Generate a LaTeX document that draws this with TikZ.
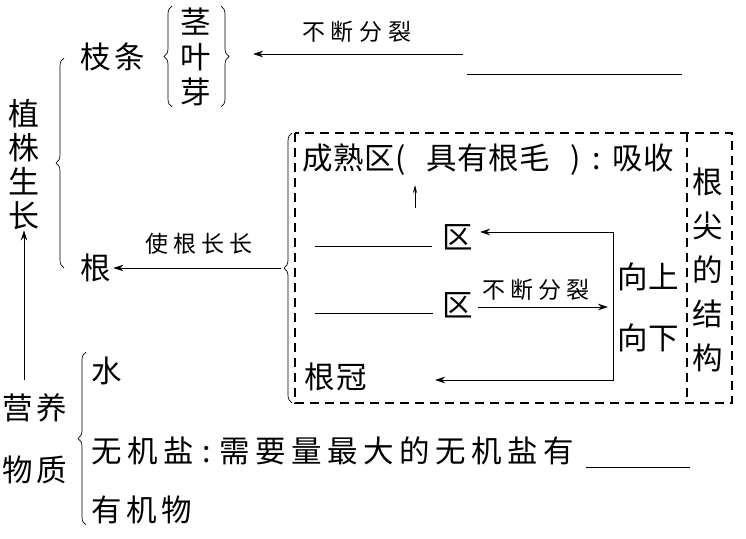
\documentclass[tikz,border=0pt]{standalone}
\usepackage{fontspec}
\setmainfont{Noto Sans CJK SC}
\usetikzlibrary{arrows.meta,decorations.pathreplacing}
\makeatletter
\newcommand\pitched[2]{\@tfor\pc:=#2\do{\makebox[#1]{\pc}}}
\makeatother
\tikzset{
  big/.style={inner sep=0pt,font=\fontsize{30.5}{34}\selectfont},
  vert/.style={inner sep=0pt,align=center},
  small/.style={inner sep=0pt,font=\fontsize{23}{26}\selectfont},
  conn/.style={line width=0.8pt,-{Stealth[length=10pt,width=6.5pt]}},
  thin/.style={line width=0.8pt},
  blank/.style={line width=0.9pt},
  brc/.style={line width=0.7pt,decorate,decoration={brace,amplitude=8pt}},
  dbox/.style={line width=1.1pt,dash pattern=on 9pt off 6pt}
}
\begin{document}
\begin{tikzpicture}[x=1pt,y=-1pt]
\useasboundingbox (0,0) rectangle (746,538);
% left vertical title
\node[vert,font=\fontsize{31}{34}\selectfont] (zz) at (24,165) {植\\株\\生\\长};
\node[big,anchor=west] (zt) at (79,57) {\pitched{34pt}{枝条}};
\node[big,anchor=west] (gen) at (79,268) {\pitched{34pt}{根}};
\draw[brc] (64,268) -- (64,58);
% stem/leaf/bud
\node[vert,font=\fontsize{30.5}{35}\selectfont] (jyy) at (196,57) {茎\\叶\\芽};
\draw[brc] (172,107) -- (172,6);
\draw[brc] (221,6) -- (221,107);
\coordinate (topR) at (463,54);
\coordinate (topL) at (253,54);
\draw[conn] (topR) -- (topL);
\node[small] (bdfl1) at (357,32) {\pitched{29pt}{不断分裂}};
\coordinate (bl0a) at (467,74);
\coordinate (bl0b) at (682,74);
\draw[blank] (bl0a) -- (bl0b);
% dashed box
\draw[dbox] (295,133) rectangle (732,403);
\draw[dbox] (687,133) -- (687,403);
\draw[brc] (292,403) -- (292,133);
\coordinate (btip) at (281,268);
\draw[conn] (btip) -- (gen.east);
\node[small] (sggc) at (199,244) {\pitched{28pt}{使根长长}};
% inside box
\node[big,anchor=west] (csq) at (302,160) {\pitched{31pt}{成熟区}\makebox[31pt][l]{(}\pitched{31pt}{具有根毛}\makebox[31pt][r]{)}\makebox[31pt]{:}\pitched{31pt}{吸收}};
\coordinate (ua) at (415,208);
\coordinate (ub) at (415,185);
\draw[thin,-{Stealth[length=8pt,width=4pt]}] (ua) -- (ub);
\coordinate (bl1a) at (315,246);
\coordinate (bl1b) at (432,246);
\draw[blank] (bl1a) -- (bl1b);
\node[big] (q1) at (458,237) {区};
\coordinate (bl2a) at (315,313);
\coordinate (bl2b) at (433,313);
\draw[blank] (bl2a) -- (bl2b);
\node[big] (q2) at (458,305) {区};
\coordinate (vt) at (613,232);
\coordinate (vb) at (613,380);
\coordinate (g1) at (480,232);
\coordinate (g2) at (435,380);
\draw[conn] (vb) -- (vt) -- (g1);
\draw[conn] (vt) -- (vb) -- (g2);
\coordinate (m1) at (478,307);
\coordinate (m2) at (608,307);
\draw[conn] (m1) -- (m2);
\node[small] (bdfl2) at (536,290) {\pitched{28pt}{不断分裂}};
\node[big] (xs) at (648,277) {\pitched{31pt}{向上}};
\node[big] (xx) at (648,338) {\pitched{31pt}{向下}};
\node[big,anchor=west] (gg) at (304,377) {\pitched{32pt}{根冠}};
\node[vert,font=\fontsize{30.5}{44}\selectfont] (gjjg) at (708,270) {根\\尖\\的\\结\\构};
% bottom
\node[big,anchor=west] (yy) at (1,408) {\pitched{34pt}{营养}};
\node[big,anchor=west] (wz) at (1,470) {\pitched{34pt}{物质}};
\draw[conn] (24,380) -- (zz.south);
\draw[brc] (86,525) -- (86,352);
\node[big,anchor=west] (shui) at (89,371) {\pitched{35pt}{水}};
\node[big,anchor=west] (wjy) at (89,451) {\pitched{36pt}{无机盐}\makebox[20pt]{:}\pitched{36pt}{需要量最大的无机盐有}};
\coordinate (bl3a) at (586,467);
\coordinate (bl3b) at (690,467);
\draw[blank] (bl3a) -- (bl3b);
\node[big,anchor=west] (yjw) at (89,510) {\pitched{35pt}{有机物}};
\end{tikzpicture}
\end{document}
